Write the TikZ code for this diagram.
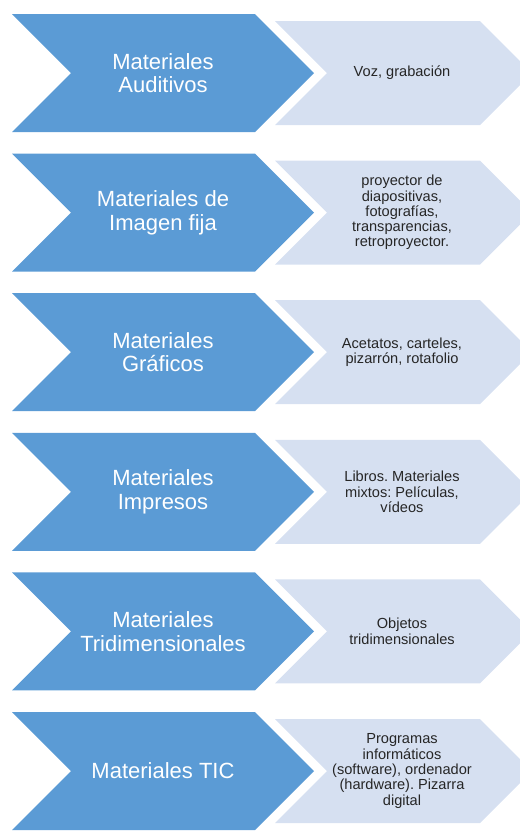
\documentclass[tikz,border=0pt]{standalone}
\usepackage{fontspec}
\setmainfont{Liberation Sans}
\frenchspacing
\definecolor{chevblue}{HTML}{5B9BD5}
\definecolor{chevlight}{HTML}{D6E0F1}
\tikzset{
  bigtext/.style={text=white,align=center,font=\fontsize{22}{23.5}\selectfont},
  smalltext/.style={text=black!85,align=center,font=\fontsize{14.6}{15.3}\selectfont},
}
% chevron: left x, centre y, body width, half height, colour
\newcommand{\chev}[5]{%
  \fill[#5] (#1,{#2-#4}) -- ({#1+#3},{#2-#4}) -- ({#1+#3+#4},#2)
    -- ({#1+#3},{#2+#4}) -- (#1,{#2+#4}) -- ({#1+#4},#2) -- cycle;}

\begin{document}
\begin{tikzpicture}[x=1pt,y=-1pt]
   \def\bx{12} \def\bw{243} \def\bh{59}
   \def\lx{275} \def\lw{205} \def\lh{52}
   \useasboundingbox (0,0) rectangle (520,831);
   \clip (0,0) rectangle (520,831);
   % rows
   \chev{\bx}{73}{\bw}{\bh}{chevblue}   \chev{\lx}{73}{\lw}{\lh}{chevlight}
   \chev{\bx}{212.6}{\bw}{\bh}{chevblue} \chev{\lx}{212.6}{\lw}{\lh}{chevlight}
   \chev{\bx}{352.2}{\bw}{\bh}{chevblue} \chev{\lx}{352.2}{\lw}{\lh}{chevlight}
   \chev{\bx}{491.8}{\bw}{\bh}{chevblue} \chev{\lx}{491.8}{\lw}{\lh}{chevlight}
   \chev{\bx}{631.4}{\bw}{\bh}{chevblue} \chev{\lx}{631.4}{\lw}{\lh}{chevlight}
   \chev{\bx}{771}{\bw}{\bh}{chevblue}   \chev{\lx}{771}{\lw}{\lh}{chevlight}
   % labels
   \node[bigtext] (aud) at (163,73) {Materiales\\Auditivos};
   \node[smalltext] (audx) at (402,73) {Voz, grabación};
   \node[bigtext] (ima) at (163,212.6) {Materiales de\\Imagen fija};
   \node[smalltext] (imax) at (402,212.6) {proyector de\\diapositivas,\\fotografías,\\transparencias,\\retroproyector.};
   \node[bigtext] (gra) at (163,352.2) {Materiales\\Gráficos};
   \node[smalltext] (grax) at (402,352.2) {Acetatos, carteles,\\pizarrón, rotafolio};
   \node[bigtext] (imp) at (163,491.8) {Materiales\\Impresos};
   \node[smalltext] (impx) at (402,491.8) {Libros. Materiales\\mixtos: Películas,\\vídeos};
   \node[bigtext] (tri) at (163,631.4) {Materiales\\Tridimensionales};
   \node[smalltext] (trix) at (402,631.4) {Objetos\\tridimensionales};
   \node[bigtext] (tic) at (163,771) {Materiales TIC};
   \node[smalltext] (ticx) at (402,771) {Programas\\informáticos\\(software), ordenador\\(hardware). Pizarra\\digital};
\end{tikzpicture}
\end{document}
